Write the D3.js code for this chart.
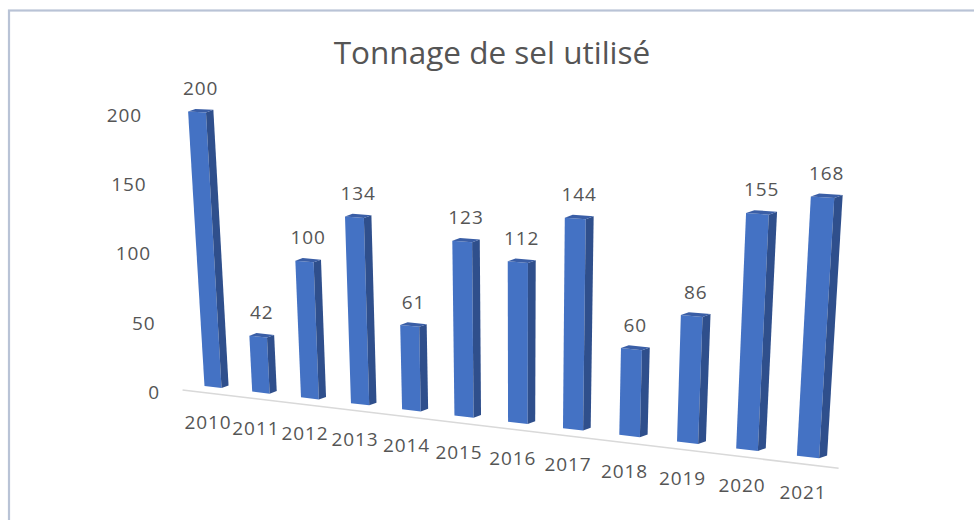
<!DOCTYPE html>
<html>
<head>
<meta charset="utf-8">
<script src="https://cdnjs.cloudflare.com/ajax/libs/d3/7.8.5/d3.min.js"></script>
<style>
  html, body { margin: 0; padding: 0; background: #fff; }
  svg { display: block; }
  text { font-family: "Open Sans", "Lato", sans-serif; fill: #555555; }
</style>
</head>
<body>
<div id="chart"></div>
<script>
const years = ["2010", "2011", "2012", "2013", "2014", "2015", "2016", "2017", "2018", "2019", "2020", "2021"]
const tonnage = [200, 42, 100, 134, 61, 123, 112, 144, 60, 86, 155, 168]
const yTicks = [0, 50, 100, 150, 200]
const title = "Tonnage de sel utilisé"

const W = 974
const H = 520

const svg = d3.select("#chart")
    .append("svg")
    .attr("width", W)
    .attr("height", H)

// category index along the floor
const idx = d3.scalePoint()
    .domain(years)
    .range([0, years.length - 1])

// perspective: numerators are linear in category / value / depth, shared denominator
const numX = { c: 213, x: 44.95, y: -0.129, z: 7 }
const numY = { c: 387, x: 1.19, y: -1.403, z: -2.5 }
const denom = { x: -0.01131, y: -0.000249 }

function project(X, V, Z) {
    const d = 1 + denom.x * X + denom.y * V
    return [
        (numX.c + numX.x * X + numX.y * V + numX.z * Z) / d,
        (numY.c + numY.x * X + numY.y * V + numY.z * Z) / d
    ]
}

// left wall tick labels
const tickY = d3.scaleLinear().domain([0, 200]).range([391.7, 115])
const tickX = d3.scaleLinear().domain([0, 200]).range([160, 142])

// outer frame
svg.append("rect")
    .attr("x", 9)
    .attr("y", 10.5)
    .attr("width", 1000)
    .attr("height", 600)
    .attr("fill", "none")
    .attr("stroke", "#b9c3d6")
    .attr("stroke-width", 2.2)

svg.append("text")
    .attr("x", 492)
    .attr("y", 64)
    .attr("text-anchor", "middle")
    .style("font-size", "31.5px")
    .text(title)

svg.append("g")
    .selectAll("text")
    .data(yTicks)
    .join("text")
    .attr("x", d => tickX(d))
    .attr("y", d => tickY(d) + 7)
    .attr("text-anchor", "end")
    .style("font-size", "19px")
    .style("letter-spacing", "0.9px")
    .text(d => d)

// floor front edge
const f0 = project(-0.35, 0, -2)
const f1 = project(11.75, 0, -2)
svg.append("line")
    .attr("x1", f0[0]).attr("y1", f0[1])
    .attr("x2", f1[0]).attr("y2", f1[1])
    .attr("stroke", "#d9d9d9")
    .attr("stroke-width", 1.6)

const half = 0.18
const line = pts => "M" + pts.map(p => p.join(",")).join("L") + "Z"

const bars = svg.append("g")
    .selectAll("g")
    .data(years.map((y, i) => ({ year: y, value: tonnage[i] })))
    .join("g")

bars.append("path")
    .attr("fill", "#4472c4")
    .attr("d", d => {
        const X = idx(d.year)
        return line([project(X - half, 0, 0), project(X + half, 0, 0),
            project(X + half, d.value, 0), project(X - half, d.value, 0)])
    })

bars.append("path")
    .attr("fill", "#2f4f8c")
    .attr("d", d => {
        const X = idx(d.year)
        return line([project(X + half, 0, 0), project(X + half, 0, 1),
            project(X + half, d.value, 1), project(X + half, d.value, 0)])
    })

bars.append("path")
    .attr("fill", "#3a5ea6")
    .attr("d", d => {
        const X = idx(d.year)
        return line([project(X - half, d.value, 0), project(X + half, d.value, 0),
            project(X + half, d.value, 1), project(X - half, d.value, 1)])
    })

bars.append("text")
    .attr("x", d => project(idx(d.year), d.value, 0.5)[0])
    .attr("y", d => project(idx(d.year), d.value, 0.5)[1] - 16)
    .attr("text-anchor", "middle")
    .style("font-size", "19px")
    .style("letter-spacing", "0.9px")
    .text(d => d.value)

bars.append("text")
    .attr("x", d => project(idx(d.year), 0, 0)[0] - 5)
    .attr("y", d => project(idx(d.year), 0, 0)[1] + 42)
    .attr("text-anchor", "middle")
    .style("font-size", "19px")
    .style("letter-spacing", "0.9px")
    .text(d => d.year)
</script>
</body>
</html>
